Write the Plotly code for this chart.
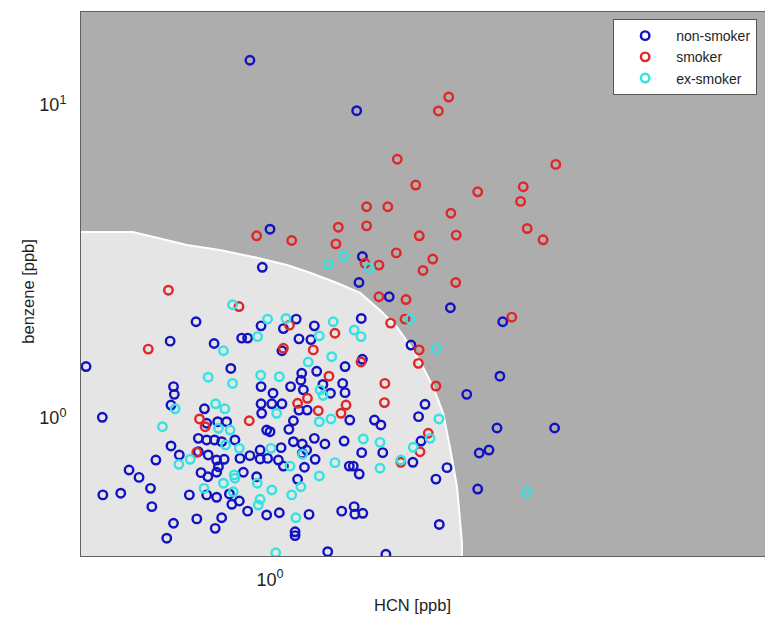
import plotly.graph_objects as go

# ---------------- data (ppb) ----------------
nonsmoker_hcn = [0.936, 1.33, 1.00, 1.355, 0.975, 1.34, 1.48, 1.81, 2.15, 1.35, 0.784, 0.971, 1.09, 1.045, 1.157,
                 1.59, 1.91, 0.72, 0.832, 0.911, 0.929, 1.04, 1.10, 1.144, 1.28, 1.355, 0.546, 0.879, 1.11, 1.166,
                 1.107, 1.19, 1.27, 1.28, 0.971, 1.07, 1.116, 1.01, 1.04, 1.22, 0.728, 0.730, 0.722, 0.576, 0.806,
                 0.971, 1.006, 1.10, 1.13, 1.30, 0.973, 1.08, 1.41, 1.44, 1.665, 1.63, 0.812, 0.842, 0.867, 0.989,
                 1.0, 1.064, 0.79, 0.812, 0.833, 0.853, 0.891, 0.722, 0.79, 0.742, 0.687, 0.816, 0.839, 0.86, 0.906,
                 0.936, 0.968, 0.968, 0.992, 1.037, 1.08, 1.112, 1.128, 1.112, 1.157, 1.198, 1.276, 1.643, 1.352,
                 1.449, 1.16, 1.028, 1.045, 1.12, 1.298, 1.315, 1.341, 1.60, 1.79, 1.726, 0.629, 0.65, 0.675, 0.797,
                 0.815, 0.839, 0.844, 0.916, 0.957, 1.095, 0.577, 0.612, 0.678, 0.767, 0.812, 0.839, 0.875, 0.882,
                 0.904, 0.929, 0.989, 1.031, 1.137, 1.266, 1.319, 1.322, 1.357, 1.745, 0.728, 0.786, 0.853, 0.835,
                 0.712, 1.086, 1.086, 1.209, 1.464, 2.13, 2.11, 2.055, 1.99, 1.98, 2.55]
nonsmoker_benzene = [13.9, 9.59, 4.01, 3.28, 3.03, 2.71, 2.44, 2.25, 2.03, 2.08, 2.03, 1.97, 2.07, 1.93, 1.97,
                     1.71, 1.19, 1.76, 1.73, 1.80, 1.80, 1.64, 1.79, 1.78, 1.46, 1.54, 1.46, 1.44, 1.39, 1.41,
                     1.32, 1.28, 1.29, 1.205, 1.26, 1.26, 1.23, 1.20, 1.11, 1.20, 1.26, 1.19, 1.10, 1.005, 1.07,
                     1.11, 1.11, 1.06, 1.06, 0.985, 1.035, 0.98, 0.985, 0.95, 1.106, 1.01, 0.962, 0.973, 0.973, 0.915,
                     0.904, 0.92, 0.861, 0.851, 0.851, 0.84, 0.851, 0.814, 0.78, 0.762, 0.734, 0.762, 0.734, 0.738, 0.743,
                     0.758, 0.79, 0.74, 0.743, 0.804, 0.84, 0.826, 0.79, 0.771, 0.861, 0.826, 0.844, 0.844, 0.775,
                     0.775, 0.738, 0.734, 0.702, 0.696, 0.702, 0.702, 0.662, 0.722, 0.694, 0.638, 0.682, 0.646, 0.596, 0.669,
                     0.649, 0.671, 0.699, 0.671, 0.649, 0.637, 0.568, 0.575, 0.521, 0.568, 0.568, 0.558, 0.572, 0.53,
                     0.543, 0.504, 0.49, 0.498, 0.492, 0.504, 0.521, 0.493, 0.496, 0.457, 0.461, 0.476, 0.48, 0.444,
                     0.413, 0.433, 0.421, 0.374, 0.367, 1.36, 0.929, 0.79, 0.773, 0.593, 0.929]

smoker_hcn = [1.80, 1.74, 1.52, 2.56, 1.615, 1.98, 2.30, 2.28, 1.374, 1.473, 1.813, 0.957, 1.074, 1.252, 1.374,
              1.242, 1.634, 1.845, 2.33, 2.455, 1.515, 1.708, 1.654, 1.842, 1.367, 1.431, 1.431, 1.564, 2.215,
              1.487, 1.559, 0.716, 0.903, 1.066, 1.238, 1.633, 1.629, 1.726, 0.67, 1.045, 1.153, 1.349, 1.214,
              1.459, 1.457, 1.095, 1.131, 1.172, 1.284, 1.263, 0.793, 0.808, 0.934, 1.683, 1.638, 0.786, 1.538]
smoker_benzene = [10.6, 9.57, 6.71, 6.46, 5.55, 5.28, 5.48, 4.92, 4.73, 4.73, 4.51, 3.82, 3.69, 4.07, 4.11,
                  3.60, 3.82, 3.84, 4.03, 3.71, 3.37, 3.22, 2.96, 2.71, 3.12, 3.08, 2.44, 2.39, 2.10,
                  2.01, 2.07, 2.56, 2.27, 1.98, 1.865, 1.65, 1.495, 1.265, 1.66, 1.67, 1.65, 1.51, 1.36,
                  1.29, 1.12, 1.114, 1.156, 1.055, 1.10, 1.035, 0.993, 0.938, 0.98, 0.894, 0.78, 0.777, 0.722]

exsmoker_hcn = [1.211, 1.276, 1.386, 1.585, 0.884, 0.992, 1.054, 1.231, 1.319, 1.349, 1.73, 0.858, 0.96, 1.176,
                1.225, 1.134, 0.816, 0.884, 0.97, 1.031, 1.179, 1.191, 0.732, 0.836, 0.862, 1.022, 1.176, 1.222,
                1.743, 0.702, 0.844, 0.877, 0.864, 0.904, 0.741, 0.769, 1.003, 1.359, 1.436, 1.693, 1.602, 1.238,
                1.068, 1.436, 1.538, 0.889, 0.891, 0.858, 0.959, 1.176, 1.107, 1.006, 0.805, 0.886, 0.968, 0.962,
                1.074, 1.089, 1.019, 2.33, 1.113]
exsmoker_benzene = [3.10, 3.29, 3.02, 2.07, 2.30, 2.07, 2.08, 2.03, 1.91, 1.82, 1.67, 1.64, 1.82, 1.83,
                    1.57, 1.51, 1.35, 1.29, 1.37, 1.355, 1.23, 1.18, 1.07, 1.11, 1.07, 1.035, 0.973, 0.993,
                    0.993, 0.938, 0.927, 0.915, 0.82, 0.80, 0.711, 0.738, 0.80, 0.857, 0.836, 0.861, 0.806, 0.72,
                    0.702, 0.691, 0.734, 0.658, 0.642, 0.619, 0.619, 0.653, 0.603, 0.589, 0.596, 0.581, 0.55, 0.527,
                    0.568, 0.48, 0.371, 0.58, 0.766]

# classifier decision boundary (non-smoker region lies below/left of it)
boundary_hcn = [0.40, 0.40, 0.637, 0.690, 0.761, 0.848, 0.946, 1.057, 1.141, 1.247, 1.345, 1.436, 1.518,
                1.601, 1.654, 1.710, 1.767, 1.807, 1.850, 1.868, 1.880, 1.880]
boundary_benzene = [0.30, 3.93, 3.93, 3.76, 3.57, 3.44, 3.27, 3.08, 2.91, 2.70, 2.51, 2.21, 1.953,
                    1.649, 1.455, 1.256, 1.037, 0.808, 0.602, 0.472, 0.40, 0.30]

series_names = ["non-smoker", "smoker", "ex-smoker"]
series_colors = ["#1212c4", "#e02626", "#33e3e3"]

x_range_log = [-0.27, 0.7071]
y_range_log = [-0.4409, 1.2971]
x_tickvals = [1]
x_ticktext = ["10<sup>0</sup>"]
y_tickvals = [1, 10]
y_ticktext = ["10<sup>0</sup>", "10<sup>1</sup>"]

FONT = "Liberation Sans, Arial, sans-serif"
TXT = "#1e1e1e"

fig = go.Figure()

fig.add_trace(go.Scatter(
    x=boundary_hcn, y=boundary_benzene, mode="lines", fill="toself",
    fillcolor="#e5e5e5", line=dict(color="#ffffff", width=2),
    showlegend=False, hoverinfo="skip"))

for name, color, xs, ys in zip(
        series_names, series_colors,
        [nonsmoker_hcn, smoker_hcn, exsmoker_hcn],
        [nonsmoker_benzene, smoker_benzene, exsmoker_benzene]):
    fig.add_trace(go.Scatter(
        x=xs, y=ys, mode="markers", name=name,
        marker=dict(symbol="circle-open", size=8.5, color=color,
                    line=dict(color=color, width=2.4))))

fig.update_layout(
    width=765, height=620,
    margin=dict(l=81, r=0, t=12, b=64),
    paper_bgcolor="#ffffff",
    plot_bgcolor="#adadad",
    font=dict(family=FONT, color=TXT),
    legend=dict(x=0.778, y=0.987, xanchor="left", yanchor="top",
                bgcolor="#ffffff", bordercolor="#555555", borderwidth=1,
                font=dict(size=14, family=FONT, color=TXT),
                itemwidth=52, tracegroupgap=0),
    xaxis=dict(type="log", range=x_range_log, showgrid=False, zeroline=False,
               showline=True, linecolor="#606060", linewidth=1, mirror=True,
               ticks="", tickvals=x_tickvals, ticktext=x_ticktext,
               tickfont=dict(size=18, family=FONT, color=TXT),
               ticklabelstandoff=7),
    yaxis=dict(type="log", range=y_range_log, showgrid=False, zeroline=False,
               showline=True, linecolor="#606060", linewidth=1, mirror=False,
               ticks="", tickvals=y_tickvals, ticktext=y_ticktext,
               tickfont=dict(size=18, family=FONT, color=TXT),
               ticklabelstandoff=10),
    annotations=[
        dict(text="HCN [ppb]", xref="paper", yref="paper", x=0.484, y=-0.09,
             xanchor="center", yanchor="middle", showarrow=False,
             font=dict(size=16.5, family=FONT, color=TXT)),
        dict(text="benzene [ppb]", xref="paper", yref="paper", x=-0.078, y=0.487,
             xanchor="center", yanchor="middle", showarrow=False, textangle=-90,
             font=dict(size=16.5, family=FONT, color=TXT)),
    ],
)

fig.write_html("out.html")
